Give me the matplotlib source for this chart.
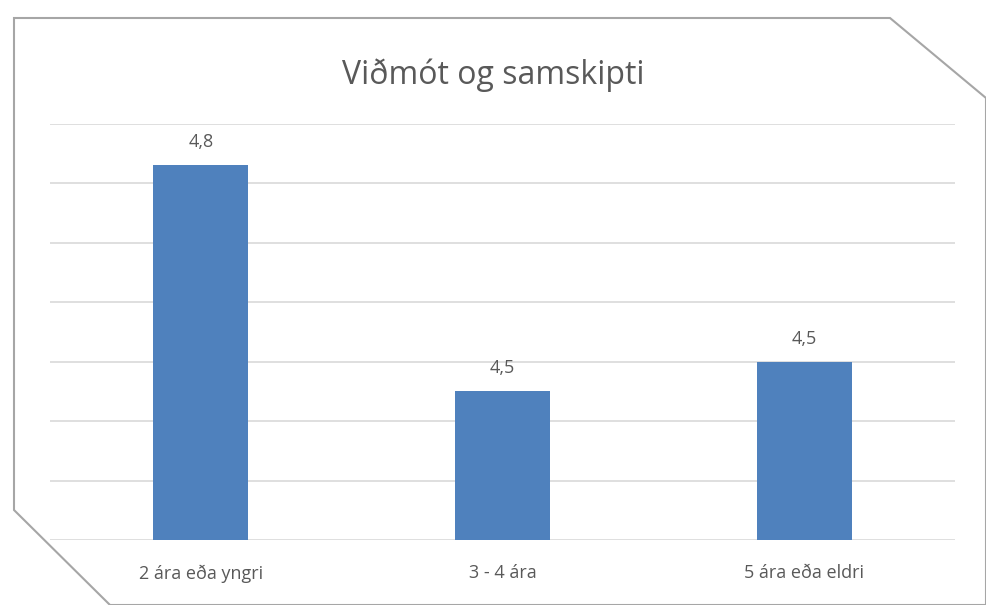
import matplotlib
matplotlib.use("Agg")
import matplotlib.pyplot as plt
from matplotlib.patches import Polygon

categories = ["2 ára eða yngri", "3 - 4 ára", "5 ára eða eldri"]
values = [4.83, 4.451, 4.50]
title = "Viðmót og samskipti"

plt.rcParams["font.family"] = ["Open Sans", "DejaVu Sans"]
grey = "#595959"

fig = plt.figure(figsize=(9.86, 6.05), dpi=100)

# card outline with cut corners (pixel coords -> figure fraction)
W, H = 986.0, 605.0
frame_px = [(14, 18), (890, 18), (986, 98), (986, 605), (110, 605), (14, 510)]
shadow = Polygon([(x / W + 0.003, 1 - y / H - 0.005) for x, y in frame_px],
                 closed=True, transform=fig.transFigure, facecolor="#d9d9d9",
                 edgecolor="none", zorder=-2)
frame = Polygon([(x / W, 1 - y / H) for x, y in frame_px], closed=True,
                transform=fig.transFigure, facecolor="white",
                edgecolor="#a6a6a6", linewidth=1.5, zorder=-1)
fig.patches.extend([shadow, frame])

ax = fig.add_axes([50 / W, 1 - 540 / H, 905 / W, (540 - 123.5) / H])
ax.set_facecolor("none")

x = range(len(categories))
bars = ax.bar(x, values, width=0.315, color="#4f81bd", zorder=3)
for b, v in zip(bars, values):
    ax.annotate(f"{v:.1f}".replace(".", ","), (b.get_x() + b.get_width() / 2, v),
                xytext=(0, 10), textcoords="offset points",
                ha="center", va="bottom", fontsize=13, color=grey)

ax.set_ylim(4.2, 4.9)
ax.set_xlim(-0.5, 2.5)
ax.set_yticks([4.2 + 0.1 * i for i in range(8)])
ax.yaxis.grid(True, color="#d9d9d9", linewidth=1.2, zorder=0)
ax.tick_params(axis="y", left=False, labelleft=False)
ax.tick_params(axis="x", bottom=False, labelsize=13, labelcolor=grey, pad=14)
ax.set_xticks(list(x))
ax.set_xticklabels(categories)
for s in ax.spines.values():
    s.set_visible(False)

fig.text(0.5, 1 - 75 / H, title, ha="center", va="center", fontsize=23, color=grey)

fig.savefig("out.png", dpi=100)
